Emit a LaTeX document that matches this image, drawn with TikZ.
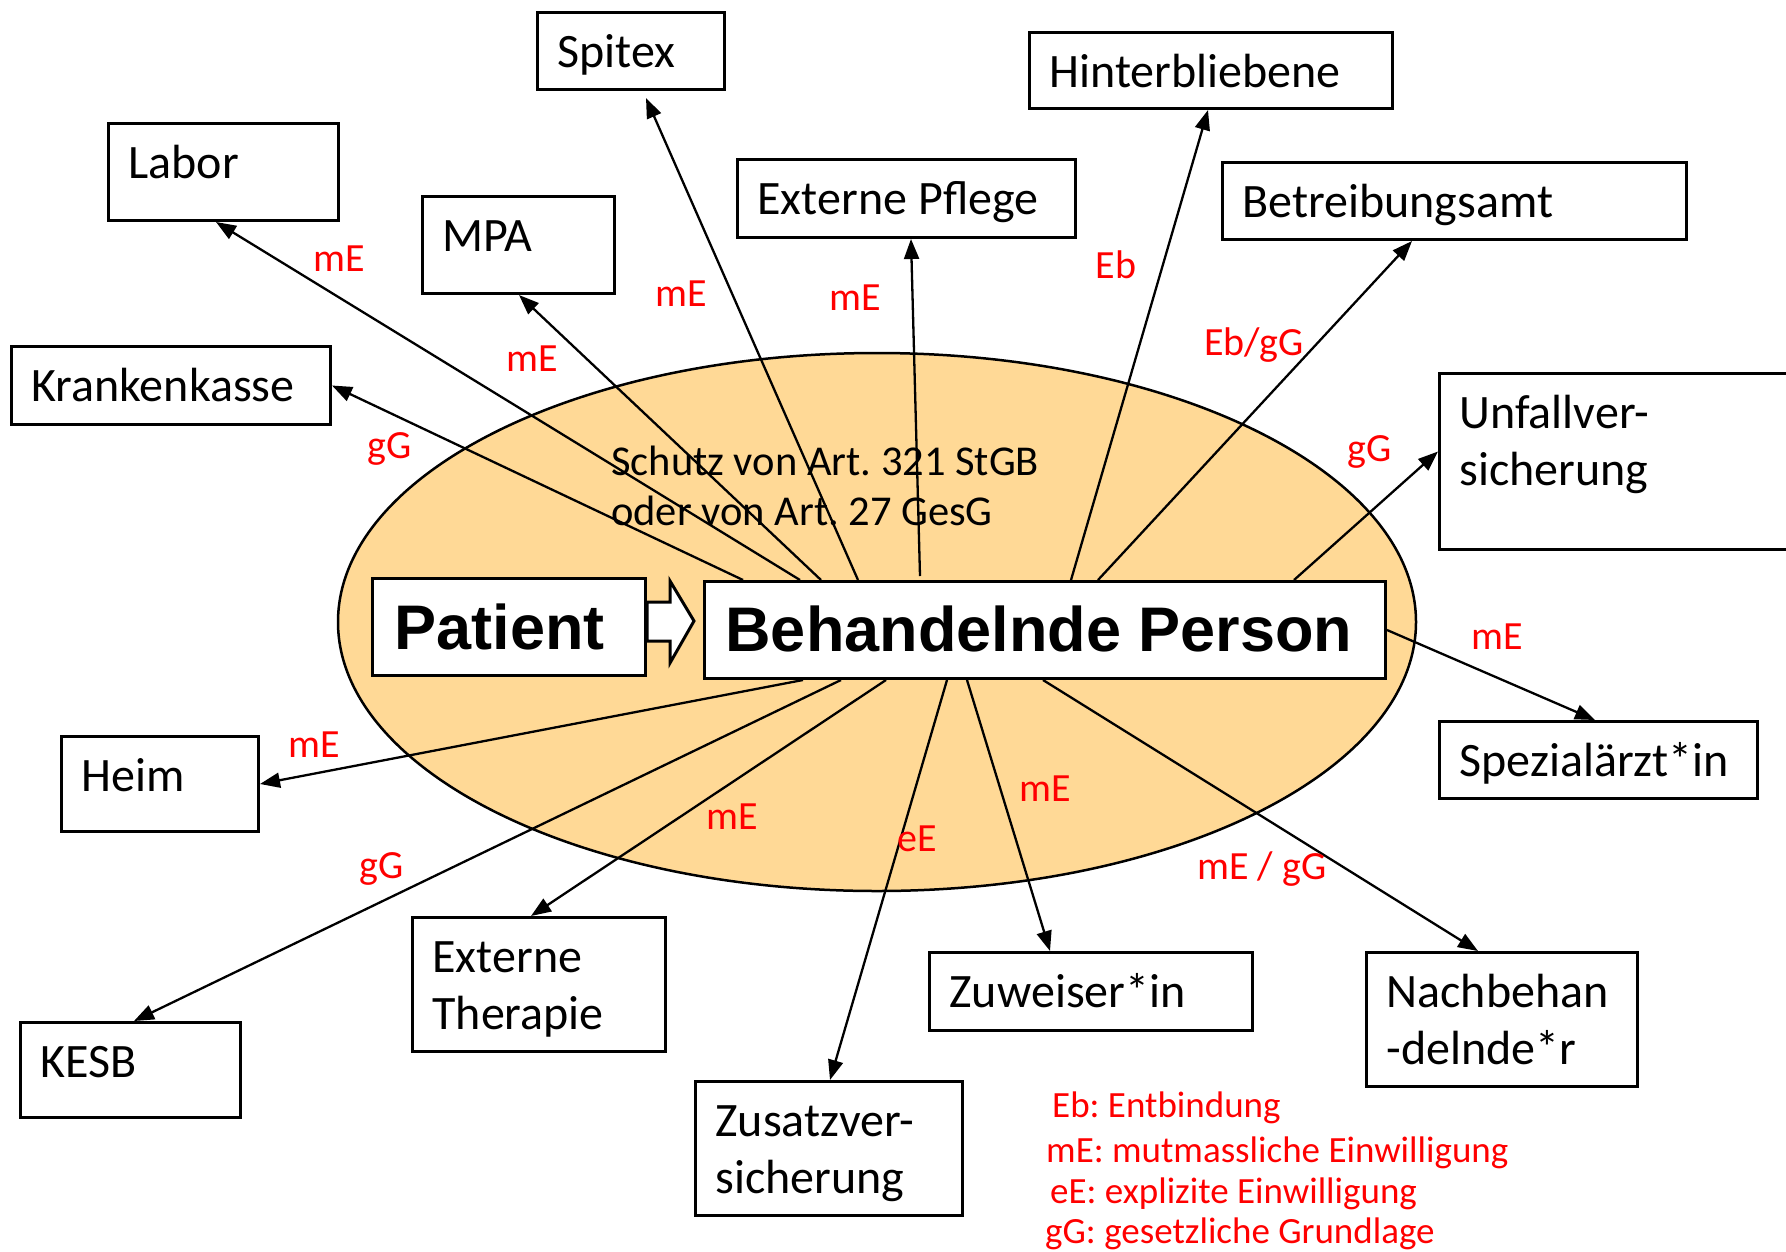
\documentclass[tikz,border=0pt]{standalone}
\usepackage{fontspec}
\setmainfont{Carlito}
\newfontfamily\headfont{Liberation Sans}
\usepackage{xcolor}
\usepackage{tikz}
\usetikzlibrary{arrows.meta,calc}

\definecolor{ovalfill}{RGB}{255,217,150}
\hyphenpenalty=10000
\frenchspacing
\newcommand{\boxfont}{\fontsize{48}{57}\selectfont}
\newcommand{\labfont}{\fontsize{40}{48}\selectfont}
\newcommand{\legfont}{\fontsize{37}{42}\selectfont}
\newcommand{\artfont}{\fontsize{42.5}{50}\selectfont}
\newcommand{\bigfont}{\headfont\bfseries\fontsize{63}{70}\selectfont}
\newcommand{\normalspaces}{\spaceskip=0pt\xspaceskip=0pt\relax}

\tikzset{
  ent/.style={draw, line width=3pt, fill=white, anchor=north west, inner xsep=20pt, inner ysep=0pt, font=\boxfont, text height=55pt, execute at begin node=\normalspaces},
  head/.style={draw, line width=3pt, fill=white, anchor=north west, inner ysep=0pt, font=\bigfont, execute at begin node=\normalspaces},
  lab/.style={text=red, font=\labfont, anchor=base, inner sep=0pt},
  leg/.style={text=red, font=\legfont, anchor=base west, inner sep=0pt},
  pfeil/.style={line width=2.3pt, -{Triangle[length=20pt,width=15pt]}},
}

\begin{document}
\begin{tikzpicture}[x=1pt,y=-1pt]
\useasboundingbox (0,0) rectangle (1786,1251);
% Oval
\draw[line width=2.5pt, fill=ovalfill] (877,622) ellipse [x radius=539, y radius=269];
\node (art) at (611,435) [anchor=north west, inner sep=0pt, font=\artfont, text width=520pt, text height=40pt, execute at begin node=\normalspaces] {Schutz von Art. 321 StGB\\oder von Art. 27 GesG};

% Mitte
\node (pat) at (371,577) [head, inner xsep=22pt, text width=229pt, text height=71pt, text depth=26pt] {Patient};
\draw[line width=3pt, fill=white, line join=miter] (647,602) -- (670,602) -- (670,581) -- (694,621) -- (670,663) -- (670,641) -- (647,641) -- cycle;
\node (bp) at (703,580) [head, inner xsep=21pt, text width=639pt, text height=70pt, text depth=27pt] {Behandelnde Person};

% oben
\node (kk) at (10,345) [ent, text width=279pt, text depth=23pt] {Krankenkasse};
\node (labor) at (107,122) [ent, text width=190pt, text depth=42pt] {Labor};
\node (mpa) at (421,195) [ent, text width=152pt, text depth=42pt] {MPA};
\node (spitex) at (536,11) [ent, text width=147pt, text depth=22pt] {Spitex};
\node (extpfl) at (736,158) [ent, text width=298pt, text depth=23pt] {Externe Pflege};
\node (hinterb) at (1028,31) [ent, text width=323pt, text depth=21pt] {Hinterbliebene};
\node (betreib) at (1221,161) [ent, text width=424pt, text depth=22pt] {Betreibungsamt};
\node (unfall) at (1438,372) [ent, text width=320pt, text depth=121pt] {Unfallver-\\sicherung};
% unten
\node (spezial) at (1438,720) [ent, text width=278pt, text depth=22pt] {Spezialärzt*in};
\node (heim) at (60,735) [ent, text width=157pt, text depth=40pt] {Heim};
\node (kesb) at (19,1021) [ent, text width=180pt, text depth=40pt] {KESB};
\node (exther) at (411,916) [ent, text width=213pt, text depth=79pt] {Externe\\Therapie};
\node (zusatz) at (694,1080) [ent, text width=227pt, text depth=79pt] {Zusatzver-\\sicherung};
\node (zuweiser) at (928,951) [ent, text width=283pt, text depth=23pt] {Zuweiser*in};
\node (nachbeh) at (1365,951) [ent, text width=231pt, text depth=79pt] {Nachbehan\\-delnde*r};

% Pfeile nach oben
\draw[pfeil] ($(bp.north west)+(40,0)$) -- (kk.east);
\draw[pfeil] ($(bp.north west)+(97,0)$) -- ($(labor.south west)+(109,0)$);
\draw[pfeil] ($(bp.north west)+(118,0)$) -- ($(mpa.south west)+(98,0)$);
\draw[pfeil] ($(bp.north west)+(155,0)$) -- ($(spitex.south west)+(110,7)$);
\draw[pfeil] ($(bp.north west)+(217,-4)$) -- ($(extpfl.south west)+(175,0)$);
\draw[pfeil] ($(bp.north west)+(368,0)$) -- ($(hinterb.south west)+(180,0)$);
\draw[pfeil] ($(bp.north west)+(395,0)$) -- ($(betreib.south west)+(191,0)$);
\draw[pfeil] ($(bp.north west)+(591,0)$) -- ($(unfall.west)+(0,-10)$);
% Pfeile nach unten
\draw[pfeil] (bp.east) -- ($(spezial.north west)+(157,0)$);
\draw[pfeil] ($(bp.south west)+(100,0)$) -- (heim.east);
\draw[pfeil] ($(bp.south west)+(138,0)$) -- ($(kesb.north west)+(115,0)$);
\draw[pfeil] ($(bp.south west)+(183,0)$) -- ($(exther.north west)+(120,0)$);
\draw[pfeil] ($(bp.south west)+(244,0)$) -- ($(zusatz.north west)+(136,0)$);
\draw[pfeil] ($(bp.south west)+(264,0)$) -- ($(zuweiser.north west)+(122,0)$);
\draw[pfeil] ($(bp.south west)+(340,0)$) -- ($(nachbeh.north west)+(113,0)$);

% Grundlagen
\node (l1) at (339,271) [lab] {mE};
\node (l2) at (532,371) [lab] {mE};
\node (l3) at (681,306) [lab] {mE};
\node (l4) at (855,310) [lab] {mE};
\node (l5) at (1116,278) [lab] {Eb};
\node (l6) at (1254,355) [lab] {Eb/gG};
\node (l7) at (1370,461) [lab] {gG};
\node (l8) at (390,458) [lab] {gG};
\node (l9) at (1497,649) [lab] {mE};
\node (l10) at (314,757) [lab] {mE};
\node (l11) at (382,878) [lab] {gG};
\node (l12) at (732,829) [lab] {mE};
\node (l13) at (917,851) [lab] {eE};
\node (l14) at (1045,801) [lab] {mE};
\node (l15) at (1262,879) [lab] {mE / gG};

% Legende
\node (leg1) at (1052,1117) [leg] {Eb: Entbindung};
\node (leg2) at (1046,1162) [leg] {mE: mutmassliche Einwilligung};
\node (leg3) at (1050,1203) [leg] {eE: explizite Einwilligung};
\node (leg4) at (1045,1243) [leg] {gG: gesetzliche Grundlage};
\end{tikzpicture}
\end{document}
